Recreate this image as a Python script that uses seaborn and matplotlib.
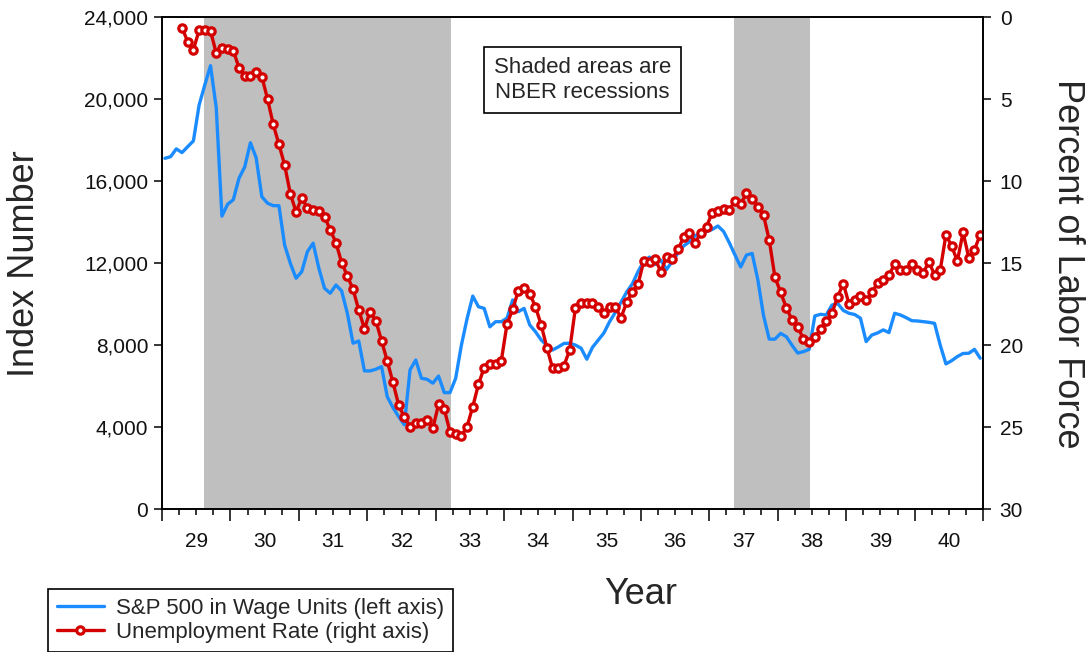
import numpy as np
import pandas as pd
import matplotlib
matplotlib.use("Agg")
import matplotlib.pyplot as plt
from matplotlib.ticker import MultipleLocator, FuncFormatter
import seaborn as sns

# S&P 500 deflated by wages, monthly Jan 1929 - Dec 1940 (left axis)
sp500_wage_units = [
    17120, 17200, 17580, 17400, 17690, 17970, 19720, 20700, 21640, 19600, 14300, 14880,   # 1929
    15100, 16150, 16700, 17880, 17150, 15250, 14930, 14810, 14810, 12890, 12000, 11270,   # 1930
    11590, 12570, 12980, 11760, 10780, 10540, 10940, 10650, 9560, 8100, 8210, 6750,       # 1931
    6750, 6830, 6960, 5490, 4960, 4520, 4120, 6800, 7280, 6390, 6340, 6150,               # 1932
    6500, 5690, 5690, 6390, 8000, 9300, 10400, 9880, 9800, 8900, 9150, 9150,              # 1933
    9320, 10210, 9640, 9800, 8990, 8660, 8260, 7990, 7770, 7920, 8090, 8100,              # 1934
    8010, 7860, 7320, 7900, 8250, 8600, 9150, 9600, 10100, 10600, 11000, 11600,           # 1935
    12100, 12300, 11950, 12150, 11700, 12100, 12500, 12850, 13050, 13350, 13450, 13550,   # 1936
    13650, 13820, 13550, 13000, 12400, 11820, 12400, 12480, 11200, 9450, 8300, 8300,      # 1937
    8580, 8420, 8000, 7620, 7690, 7800, 9430, 9510, 9480, 9960, 10040, 9700,              # 1938
    9560, 9500, 9320, 8180, 8500, 8600, 8750, 8620, 9560, 9480, 9350, 9200,               # 1939
    9185, 9150, 9120, 9070, 8000, 7090, 7250, 7450, 7600, 7610, 7800, 7370,               # 1940
]

# unemployment rate, percent of labor force, monthly Apr 1929 - Dec 1940 (right axis)
unemployment_rate = [
    0.63, 1.49, 1.99, 0.77, 0.77, 0.83, 2.19, 1.85, 1.95,
    2.05, 3.07, 3.58, 3.58, 3.31, 3.62, 4.98, 6.53, 7.75, 9.01, 10.76, 11.86,
    11.04, 11.61, 11.75, 11.81, 12.16, 12.97, 13.74, 14.96, 15.77, 16.59, 17.85, 18.99,
    17.95, 18.50, 19.74, 20.96, 22.26, 23.64, 24.39, 24.96, 24.76, 24.76, 24.55, 25.06,
    23.60, 23.90, 25.27, 25.43, 25.53, 24.96, 23.74, 22.38, 21.36, 21.16, 21.16, 20.96,
    18.72, 17.80, 16.67, 16.49, 16.87, 17.65, 18.76, 20.15, 21.40, 21.40, 21.24, 20.29,
    17.74, 17.40, 17.40, 17.40, 17.65, 18.05, 17.65, 17.65, 18.32, 17.38, 16.73, 16.26,
    14.86, 14.94, 14.76, 15.51, 14.60, 14.74, 14.15, 13.41, 13.17, 13.74, 13.17, 12.77,
    11.91, 11.81, 11.69, 11.75, 11.18, 11.38, 10.73, 11.08, 11.55, 12.07, 13.58, 15.84,
    16.77, 17.71, 18.46, 18.87, 19.62, 19.82, 19.51, 19.03, 18.52, 18.05, 17.04, 16.24,
    17.49, 17.26, 16.98, 17.26, 16.78, 16.19, 16.02, 15.71, 15.05, 15.41, 15.41, 15.05,
    15.39, 15.61, 14.90, 15.71, 15.41, 13.25, 13.96, 14.86, 13.12, 14.65, 14.19, 13.25,
]

# NBER recessions (decimal years)
recession_start = [1929.62, 1937.36]
recession_end = [1933.23, 1938.47]

BLUE = "#1a8cff"
RED = "#d40000"

months = pd.date_range("1929-01-01", "1940-12-01", freq="MS")
month_pos = np.asarray(months.year + (months.month - 0.5) / 12, dtype=float)

sp = pd.DataFrame({"t": month_pos, "value": sp500_wage_units})
ur = pd.DataFrame({"t": month_pos[-len(unemployment_rate):], "rate": unemployment_rate})

sns.set_theme(style="ticks")
plt.rcParams["font.family"] = ["Liberation Sans", "DejaVu Sans"]
plt.rcParams["axes.edgecolor"] = "black"
plt.rcParams["axes.linewidth"] = 1.2

fig = plt.figure(figsize=(10.92, 6.52), dpi=100)
ax = fig.add_axes([0.1484, 0.2189, 0.7518, 0.7546])

for s, e in zip(recession_start, recession_end):
    ax.axvspan(s, e, color="#bfbfbf", lw=0, zorder=0)

sns.lineplot(data=sp, x="t", y="value", ax=ax, color=BLUE, lw=2.4, legend=False)

ax2 = ax.twinx()
sns.lineplot(data=ur, x="t", y="rate", ax=ax2, color=RED, lw=2.4, legend=False,
             marker="o", markersize=5.3, markerfacecolor="white",
             markeredgecolor=RED, markeredgewidth=2.3)

ax.set_xlim(1929, 1941)
ax.set_ylim(0, 24000)
ax2.set_ylim(30, 0)

ax.set_yticks(range(0, 24001, 4000))
ax.yaxis.set_major_formatter(FuncFormatter(lambda v, p: f"{v:,.0f}"))
ax2.set_yticks(range(0, 31, 5))

# years: long ticks at year boundaries, quarter ticks, label in the middle
ax.xaxis.set_major_locator(MultipleLocator(1))
ax.xaxis.set_major_formatter(FuncFormatter(lambda v, p: ""))
ax.xaxis.set_minor_locator(MultipleLocator(0.25))
ax.xaxis.set_minor_formatter(FuncFormatter(
    lambda v, p: f"{int(v) % 100:02d}" if abs(v % 1 - 0.5) < 1e-6 else ""))

ax.tick_params(axis="x", which="major", length=8.5, width=1.1, color="black")
ax.tick_params(axis="x", which="minor", length=4.3, width=1.1, color="black",
               labelsize=15, pad=12, labelcolor="#111111")
ax.tick_params(axis="y", length=6, width=1.1, color="black", labelsize=15,
               pad=4, labelcolor="#111111")
ax2.tick_params(axis="y", length=6, width=1.1, color="black", labelsize=15,
                pad=6, labelcolor="#111111")

ax.set_xlabel("Year", fontsize=26)
ax.xaxis.set_label_coords(0.583, -0.138)
ax.set_ylabel("Index Number", fontsize=26)
ax.yaxis.set_label_coords(-0.146, 0.5)
ax2.set_ylabel("Percent of Labor Force", fontsize=26, rotation=270, va="bottom")
ax2.yaxis.set_label_coords(1.081, 0.5)

ax.text(0.512, 0.8726, "Shaded areas are\nNBER recessions", transform=ax.transAxes,
        ha="center", va="center", fontsize=16,
        bbox=dict(boxstyle="square,pad=0.45", fc="white", ec="black", lw=1.2))

handles = [ax.get_lines()[0], ax2.get_lines()[0]]
labels = ["S&P 500 in Wage Units (left axis)", "Unemployment Rate (right axis)"]
leg = fig.legend(handles, labels, loc="upper left",
                 bbox_to_anchor=(48 / 1092, 1 - 589 / 652),
                 frameon=True, fancybox=False, framealpha=1, edgecolor="black",
                 fontsize=16, handlelength=2.1, handletextpad=0.55,
                 borderpad=0.4, labelspacing=0.15, borderaxespad=0)
leg.get_frame().set_linewidth(1.2)

fig.savefig("out.png", dpi=100)
